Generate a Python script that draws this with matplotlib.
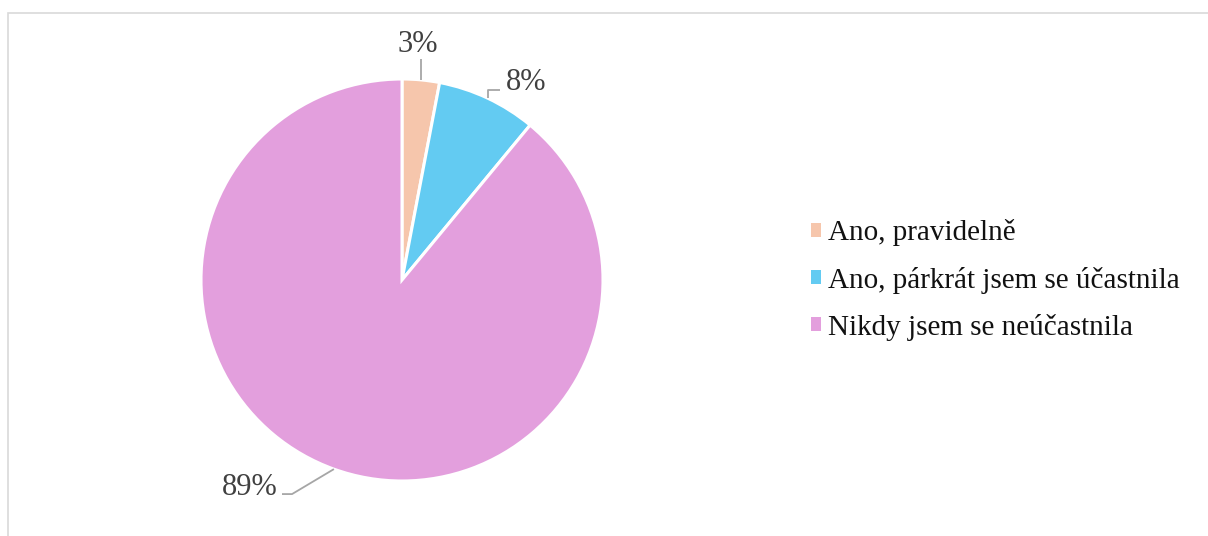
import numpy as np
import matplotlib.pyplot as plt
from matplotlib.patches import Patch, Rectangle

# answers to "did you take part?" (share of respondents, %)
categories = ["Ano, pravidelně", "Ano, párkrát jsem se účastnila", "Nikdy jsem se neúčastnila"]
shares = [3, 8, 89]
colors = ["#F6C6AC", "#63CBF2", "#E39FDD"]

plt.rcParams['font.family'] = ['Liberation Serif', 'DejaVu Serif']

W, H = 1208, 536
fig = plt.figure(figsize=(W / 100, H / 100), dpi=100)

# pie centre and radius in pixels
cx, cy, r = 402, 280, 201
ax = fig.add_axes([(cx - r) / W, (H - cy - r) / H, 2 * r / W, 2 * r / H])
wedges, _ = ax.pie(shares, colors=colors, startangle=90, counterclock=False,
                   radius=1, wedgeprops=dict(edgecolor="white", linewidth=2.2))
ax.set_xlim(-1, 1)
ax.set_ylim(-1, 1)
ax.set_aspect("equal")
ax.axis("off")

# leader lines: (text position, bend point offsets) per slice
label_pos = [(0.08, 1.17), (0.62, 0.985), (-0.756, -1.03)]
line_col = "#A6A6A6"
for w, val, (tx, ty) in zip(wedges, shares, label_pos):
    mid = np.deg2rad((w.theta1 + w.theta2) / 2)
    ex, ey = np.cos(mid), np.sin(mid)
    if ty > 1.1:
        pts = [(ex, ey), (ex, 1.10)]
    elif ty > 0:
        pts = [(ex, ey), (ex, 0.945), (ex + 0.06, 0.945)]
    else:
        pts = [(ex, ey), (-0.547, -1.065), (-0.597, -1.065)]
    xs, ys = zip(*pts)
    ax.plot(xs, ys, color=line_col, lw=1.3, clip_on=False, solid_capstyle="butt")
    ax.text(tx, ty, f"{val}%", ha="center", va="center", fontsize=22,
            color="#404040", clip_on=False)

handles = [Patch(facecolor=c, edgecolor="none") for c in colors]
fig.legend(handles, categories, loc="center left",
           bbox_to_anchor=(796 / W, 1 - 280 / H), frameon=False, fontsize=21,
           handlelength=0.36, handleheight=0.36, handletextpad=0.25,
           labelspacing=0.69, borderpad=0, labelcolor="#111111")

# chart area border (top and left edges visible)
fig.patches.append(Rectangle((8 / W, -0.1), 1.2, 1 - 13 / H + 0.1,
                             transform=fig.transFigure, fill=False,
                             edgecolor="#D9D9D9", lw=1.2))

fig.savefig("out.png", dpi=100)
